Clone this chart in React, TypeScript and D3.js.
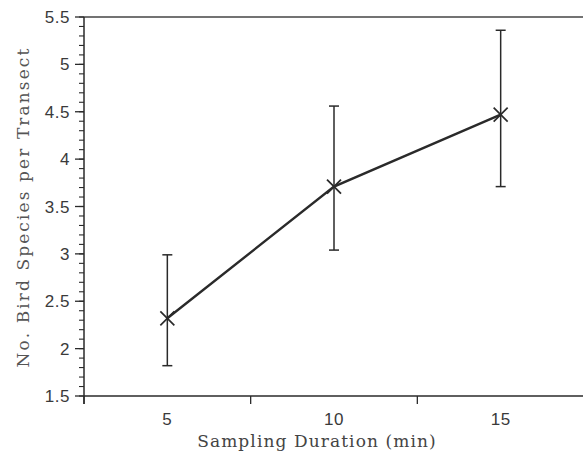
import React from "react";
import * as d3 from "d3";

const durations = [5, 10, 15];
const meanSpecies = [2.32, 3.71, 4.47];
const upperSpecies = [2.99, 4.56, 5.36];
const lowerSpecies = [1.82, 3.04, 3.71];
const yTickLabels = [1.5, 2, 2.5, 3, 3.5, 4, 4.5, 5, 5.5];
const xTickLabels = [5, 10, 15];
const xTickMarks = [2.5, 7.5, 12.5, 17.5];

export default function App() {
  const W = 583, H = 456;
  const x = d3.scaleLinear().domain([2.5, 17.5]).range([84, 584]);
  const y = d3.scaleLinear().domain([1.5, 5.5]).range([396, 17]);
  const minor = d3.range(15, 56).map((v) => v / 10);
  const line = d3.line<number>().x((_, i) => x(durations[i])).y((d) => y(d));
  const ink = "#2a2a2a";
  const textCol = "#3a3a3a";
  return (
    <svg width={W} height={H} style={{ position: "absolute", left: 0, top: 0, background: "#fff" }}>
      {/* frame */}
      <line x1={84} x2={W} y1={y(5.5)} y2={y(5.5)} stroke="#444" strokeWidth={1.5} />
      <line x1={84} x2={W} y1={y(1.5)} y2={y(1.5)} stroke={ink} strokeWidth={1.5} />
      <line x1={84} x2={84} y1={y(5.5)} y2={404} stroke={ink} strokeWidth={1.5} />
      {/* y ticks */}
      {minor.map((v) => (
        <line key={"m" + v} x1={79} x2={84} y1={y(v)} y2={y(v)} stroke={ink} strokeWidth={1.1} />
      ))}
      {yTickLabels.map((v) => (
        <g key={"y" + v}>
          <line x1={75} x2={84} y1={y(v)} y2={y(v)} stroke={ink} strokeWidth={1.3} />
          <text x={70} y={y(v)} dy="0.36em" textAnchor="end" fontFamily="Liberation Sans, Arial, sans-serif" fontSize={17} letterSpacing={0.5} fill={textCol}>
            {v}
          </text>
        </g>
      ))}
      {/* x ticks */}
      {xTickMarks.map((v) => (
        <line key={"xt" + v} x1={x(v)} x2={x(v)} y1={396} y2={404} stroke={ink} strokeWidth={1.3} />
      ))}
      {xTickLabels.map((v) => (
        <text key={"xl" + v} x={x(v)} y={425} textAnchor="middle" fontFamily="Liberation Sans, Arial, sans-serif" fontSize={17} letterSpacing={0.5} fill={textCol}>
          {v}
        </text>
      ))}
      {/* titles */}
      <text x={317} y={447} textAnchor="middle" fontFamily="DejaVu Serif, Liberation Serif, serif" fontSize={17} letterSpacing={1.1} fill="#444">
        Sampling Duration (min)
      </text>
      <text transform={`translate(29,${207}) rotate(-90)`} textAnchor="middle" fontFamily="DejaVu Serif, Liberation Serif, serif" fontSize={17} letterSpacing={2.1} fill="#555">
        No. Bird Species per Transect
      </text>
      {/* error bars */}
      {durations.map((d, i) => (
        <g key={"e" + d} stroke={ink} strokeWidth={1.5}>
          <line x1={x(d)} x2={x(d)} y1={y(upperSpecies[i])} y2={y(lowerSpecies[i])} />
          <line x1={x(d) - 5} x2={x(d) + 5} y1={y(upperSpecies[i])} y2={y(upperSpecies[i])} />
          <line x1={x(d) - 5} x2={x(d) + 5} y1={y(lowerSpecies[i])} y2={y(lowerSpecies[i])} />
        </g>
      ))}
      <path d={line(meanSpecies) || ""} fill="none" stroke={ink} strokeWidth={2.4} />
      {durations.map((d, i) => (
        <g key={"x" + d} stroke={ink} strokeWidth={1.7}>
          <line x1={x(d) - 7} x2={x(d) + 7} y1={y(meanSpecies[i]) - 7} y2={y(meanSpecies[i]) + 7} />
          <line x1={x(d) - 7} x2={x(d) + 7} y1={y(meanSpecies[i]) + 7} y2={y(meanSpecies[i]) - 7} />
        </g>
      ))}
    </svg>
  );
}
